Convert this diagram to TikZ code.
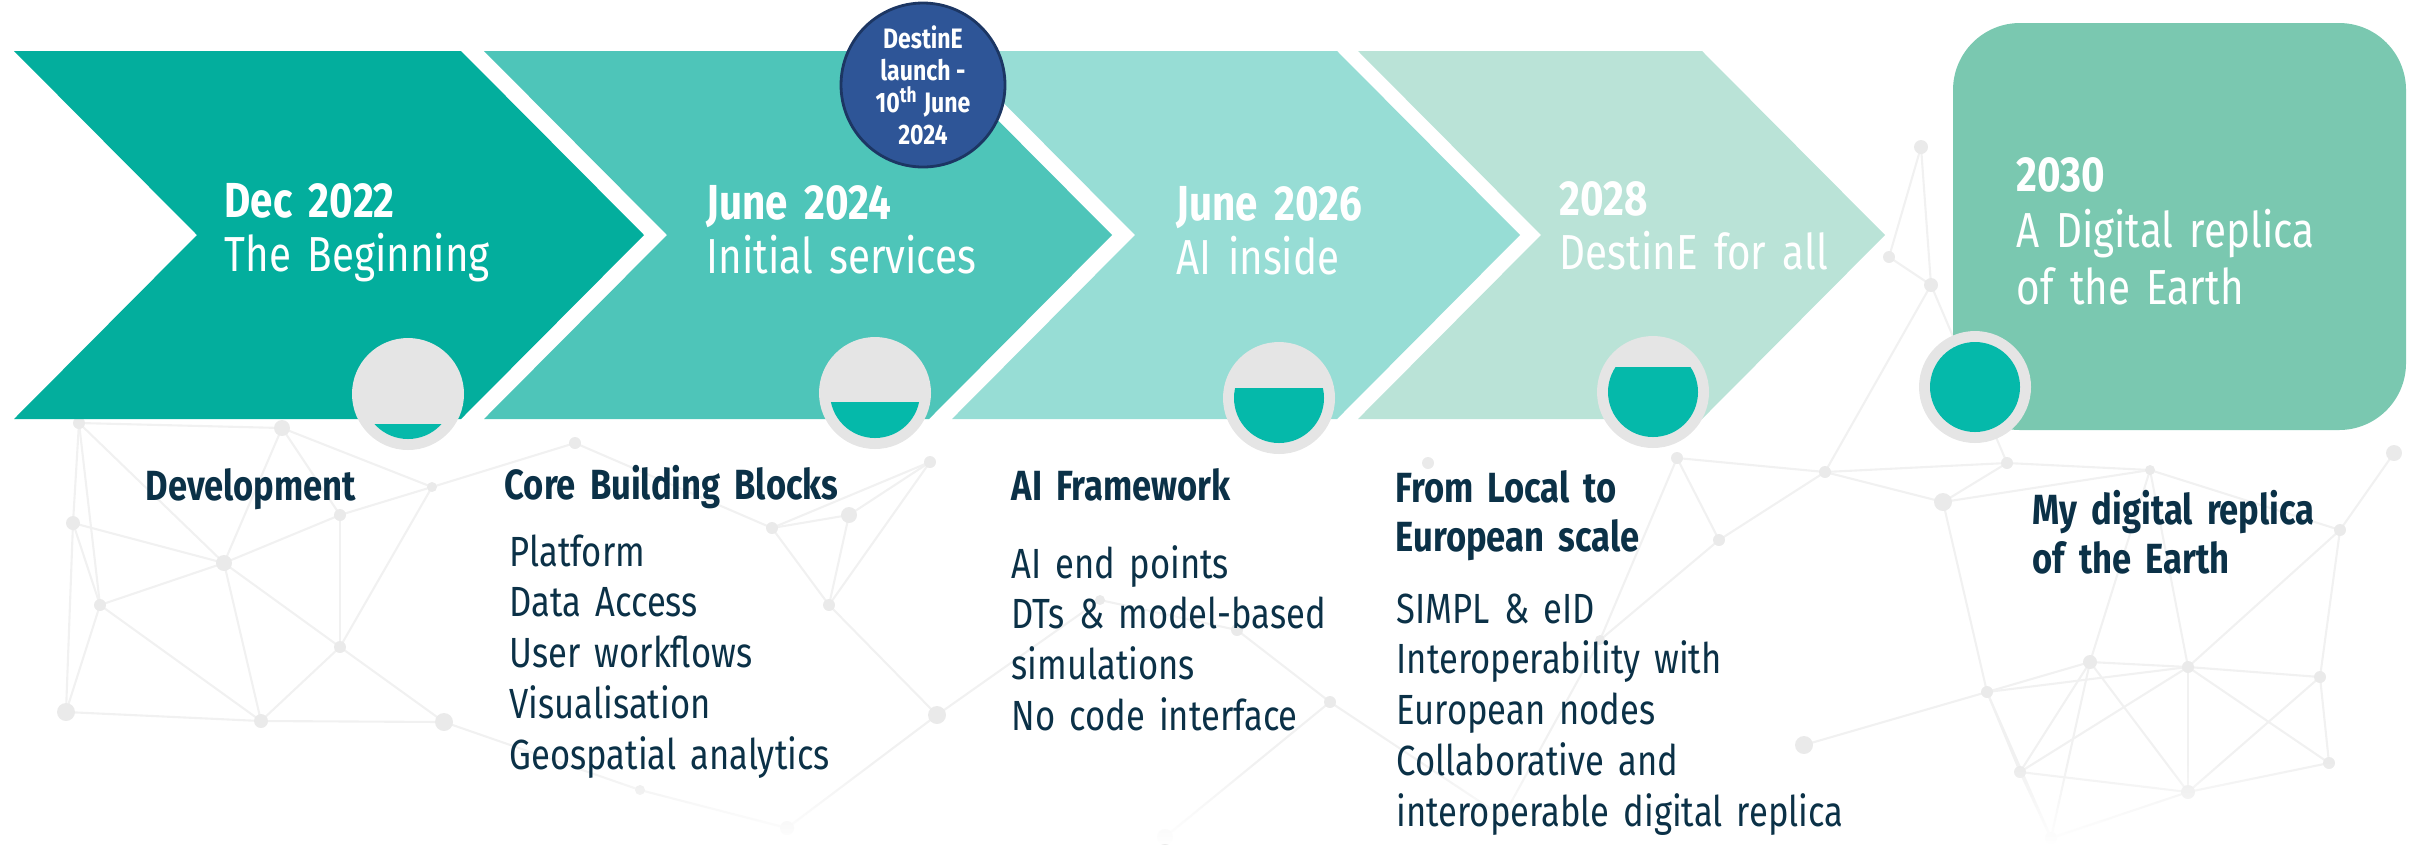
\documentclass[tikz,border=0pt]{standalone}
\usepackage{fontspec}
\setmainfont{Fira Sans}[FakeStretch=0.82]
\usetikzlibrary{calc,fadings}

\definecolor{stage-a}{HTML}{03AE9D}
\definecolor{stage-b}{HTML}{4EC5B9}
\definecolor{stage-c}{HTML}{97DDD5}
\definecolor{stage-d}{HTML}{BAE3D7}
\definecolor{stage-e}{HTML}{7AC8B0}
\definecolor{launch-blue}{HTML}{2E5597}
\definecolor{launch-edge}{HTML}{1C3663}
\definecolor{ring}{HTML}{E5E5E5}
\definecolor{level}{HTML}{05B9AA}
\definecolor{ink}{HTML}{0B3147}
\definecolor{netline}{HTML}{F1F1F1}
\definecolor{netdot}{HTML}{EAEAEA}

% background mesh points: x/y/radius (pixels)
\def\netpts{79/423/6, 282/428/8, 73/523/7, 224/563/8, 340/515/6,
  432/487/5, 100/605/6, 340/647/6, 66/712/9, 261/721/7,
  444/722/9, 575/443/6, 772/528/6, 849/515/8, 829/605/6, 930/462/6,
  937/715/9, 787/828/7, 1165/837/8, 1100/600/5, 1237/630/6,
  1330/702/6, 1428/463/6, 1677/458/6, 1825/472/6, 1943/502/9,
  1719/540/6, 2007/463/6, 2090/662/7, 2188/667/6, 2320/677/6,
  1987/692/6, 1804/745/9, 2020/772/6, 2188/792/7, 2329/763/6,
  2051/838/6, 1503/817/6, 2394/453/8, 2340/530/6, 1921/147/7,
  1889/257/6, 1931/285/7, 2150/470/5, 1600/640/5, 640/790/5}

\begin{document}
\begin{tikzpicture}[
  x=0.1mm,y=-0.1mm,
  every node/.style={inner sep=0pt},
  stage-title/.style={anchor=base west,text=white,text width=4.5cm,align=left,
    font=\fontsize{14}{15.6}\selectfont},
  heading/.style={anchor=base west,text=ink,text width=5cm,align=left,
    font=\bfseries\fontsize{12}{14.2}\selectfont},
  bullets/.style={anchor=base west,text=ink,text width=6cm,align=left,
    font=\fontsize{12}{14.5}\selectfont},
  launch/.style={circle,draw=launch-edge,line width=0.8pt,fill=launch-blue,
    minimum size=16.4mm,text=white,align=center,
    font=\bfseries\fontsize{8}{9.1}\selectfont},
  gauge/.style={circle,fill=ring,minimum size=11.2mm}]

  \useasboundingbox (0,0) rectangle (2420,844);

  % faint mesh in the background
  \foreach \ax/\ay/\ar [count=\i] in \netpts {
    \coordinate (net\i) at (\ax,\ay);
  }
  \foreach \ax/\ay/\ar [count=\i] in \netpts {
    \foreach \bx/\by/\br [count=\j] in \netpts {
      \ifnum\j>\i
        \pgfmathparse{veclen(\ax-\bx,\ay-\by)}
        \ifdim\pgfmathresult pt<215pt
          \draw[netline,line width=0.6pt] (net\i) -- (net\j);
        \fi
      \fi
    }
  }
  \foreach \ax/\ay/\ar [count=\i] in \netpts {
    \fill[netdot] (net\i) circle[radius=\ar];
  }
  \fill[white,path fading=north] (0,760) rectangle (2420,844);

  % chevrons
  \foreach \l/\r/\c in {14/461/stage-a, 484/929/stage-b,
                        952/1337/stage-c, 1358/1702/stage-d} {
    \fill[\c] (\l,51) -- (\r,51) -- (\r+183,235) -- (\r,419)
      -- (\l,419) -- (\l+183,235) -- cycle;
  }
  \fill[stage-e,rounded corners=6.7mm] (1953,23) rectangle (2406,430);

  \node[launch] (launch) at (923,85) {DestinE\\launch -\\10\textsuperscript{th} June\\2024};

  % progress gauges
  \foreach \gx/\gy/\lvl [count=\k] in {408/394/30, 875/393/9, 1279/398/-10,
                                       1653/392/-25, 1975/387/-60} {
    \node[gauge] (gauge\k) at (\gx,\gy) {};
    \begin{scope}
      \clip (\gx,\gy) circle[radius=45];
      \fill[level] (\gx-50,\gy+\lvl) rectangle (\gx+50,\gy+50);
    \end{scope}
  }

  % stage titles
  \node[stage-title] (dec22) at (224,217) {\textbf{Dec 2022}\\The Beginning};
  \node[stage-title] (jun24) at (706,219) {\textbf{June 2024}\\Initial services};
  \node[stage-title] (jun26) at (1176,220) {\textbf{June 2026}\\AI inside};
  \node[stage-title] (y2028) at (1559,215) {\textbf{2028}\\DestinE for all};
  \node[stage-title,font=\fontsize{14}{16.2}\selectfont] (y2030) at (2016,191)
    {\textbf{2030}\\A Digital replica\\of the Earth};

  % what each stage brings
  \node[heading] (dev) at (145,500) {Development};
  \node[heading] (core) at (504,499) {Core Building Blocks};
  \node[bullets] (core-list) at (509,566)
    {Platform\\Data Access\\User workflows\\Visualisation\\Geospatial analytics};
  \node[heading] (ai) at (1011,500) {AI Framework};
  \node[bullets] (ai-list) at (1011,578)
    {AI end points\\DTs \& model-based\\simulations\\No code interface};
  \node[heading] (local) at (1395,502) {From Local to\\European scale};
  \node[bullets] (local-list) at (1396,623)
    {SIMPL \& eID\\Interoperability with\\European nodes\\Collaborative and\\interoperable digital replica};
  \node[heading] (mine) at (2032,524) {My digital replica\\of the Earth};
\end{tikzpicture}
\end{document}
